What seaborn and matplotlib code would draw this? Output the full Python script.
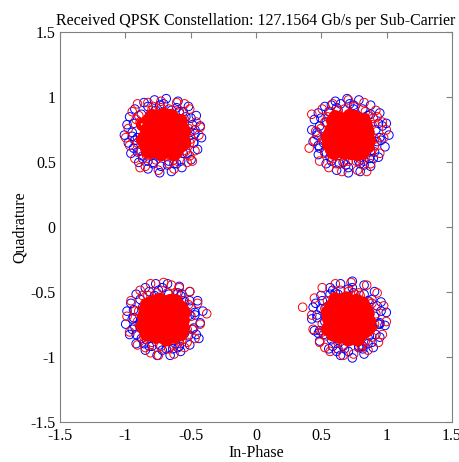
import numpy as np
import pandas as pd
import matplotlib
matplotlib.use("Agg")
import matplotlib.pyplot as plt
import seaborn as sns

# Ideal QPSK constellation points (In-Phase, Quadrature)
ideal_i = [-0.7071, 0.7071, -0.7071, 0.7071]
ideal_q = [0.7071, 0.7071, -0.7071, -0.7071]

# Received symbol offsets from the ideal points, in hundredths
# dense red core of each cluster
red_core_tl = [(0,0),(5,2),(-4,6),(9,-3),(-8,-5),(2,-9),(-3,11),(12,7),(-12,3),(7,12),(-7,-12),(14,-8),(-15,-2),(3,15),(-2,-15),(10,-13),(-11,12),(16,3),(-16,8),(1,5),(6,-6),(-6,1),(4,9),(-9,-9),(11,0),(-1,-5),(8,5),(-5,-2),(13,11),(-13,-10),(15,-3),(0,16),(-4,-10),(6,15),(-10,6),(9,-10),(-14,-6),(3,-13),(12,-5),(-7,9),(2,3),(-3,-3),(7,-1),(-8,3),(4,-4),(-2,8),(10,9),(-11,-1),(5,-11),(-6,14),(16,-6),(-16,-4),(8,-15),(-9,15),(14,5),(-1,12),(1,-11),(11,-9),(-12,-13),(13,-1),
               (2,-2),(-2,2),(6,2),(-6,-6),(3,6),(-4,-7),(8,-7),(-9,0),(0,-12),(-1,8),(9,2),(-10,-3),(5,11),(-5,10),(11,-4),(-11,9),(13,4),(-13,4),(7,9),(-7,-9),(10,-10),(-3,-12),(4,-8),(-8,7),(12,-2),(-12,-6),(1,13),(-9,-13),(6,-13),(9,12)]
red_core_tr = [(1,-1),(-5,3),(6,5),(-8,-4),(3,-8),(-2,10),(10,-2),(-11,6),(8,11),(-6,-11),(13,-7),(-14,1),(4,14),(-3,-14),(11,-12),(-12,11),(15,2),(-15,-7),(0,6),(7,-5),(-5,-1),(3,9),(-10,-8),(10,1),(0,-6),(9,6),(-4,-3),(12,12),(-13,-11),(16,-4),(1,15),(-5,-9),(5,14),(-9,7),(8,-11),(-13,-5),(2,-14),(13,-6),(-8,10),(3,2),(-2,-4),(6,0),(-9,2),(5,-3),(-3,7),(11,8),(-12,0),(4,-12),(-7,13),(15,-9),(-16,-2),(7,-15),(-10,14),(14,6),(0,12),(2,-10),(12,-10),(-11,-14),(14,0),(-1,3),
               (-1,1),(3,-3),(-6,6),(5,9),(-7,-2),(9,-8),(-3,-11),(12,4),(-12,-3),(1,-3),(7,2),(-10,10),(4,-11),(-4,12),(10,-5),(-11,-13),(13,9),(-13,4),(6,-7),(-6,-6),(9,10),(2,12),(-2,-8),(11,-14),(-14,-8),(0,9),(8,-13),(-9,-12),(14,-2),(-7,3)]
red_core_bl = [(-1,1),(4,-2),(-5,-6),(8,4),(-9,5),(3,10),(-2,-10),(11,-6),(-12,-3),(6,-12),(-8,12),(15,-1),(-14,7),(-3,15),(2,-16),(-11,-12),(12,10),(16,5),(-16,-5),(5,1),(-6,6),(1,-5),(9,-9),(-4,-8),(0,11),(7,7),(-7,0),(13,-12),(-13,11),(-15,2),(0,-13),(9,14),(-10,-6),(4,-14),(14,8),(-6,-14),(10,-4),(-3,4),(2,-2),(-8,-3),(6,3),(-1,9),(11,4),(-11,6),(5,-8),(-5,11),(15,-7),(-14,-9),(8,-14),(-9,13),(13,2),(1,13),(-2,-12),(10,11),(-12,-1),(3,6),(-4,-4),(7,-3),(-10,1),(12,-2),
               (1,-1),(-3,1),(3,3),(-7,-3),(6,-5),(-4,8),(9,0),(-10,-9),(0,-8),(4,12),(-6,-11),(11,8),(-12,4),(7,-10),(-9,9),(13,-4),(2,7),(-2,-5),(10,-12),(-14,-3),(5,14),(-5,14),(14,-10),(-13,-12),(8,10),(-8,2),(3,-11),(-1,-14),(12,5),(-11,-5)]
red_core_br = [(0,1),(-4,-3),(5,6),(-9,4),(9,-5),(-2,-9),(3,11),(12,3),(-11,-7),(-7,12),(7,-12),(-15,0),(14,-9),(-4,15),(4,-15),(-13,10),(11,12),(16,-2),(-16,5),(-1,-6),(6,-1),(-6,3),(2,8),(-9,-10),(10,5),(1,-11),(8,-8),(-3,5),(13,8),(-12,-12),(15,4),(-1,16),(-6,-6),(6,14),(-11,2),(10,-12),(-14,-4),(2,-14),(12,-4),(-8,8),(3,-3),(-3,0),(8,1),(-7,-2),(4,4),(-1,10),(9,10),(-12,6),(5,-10),(-5,13),(16,-7),(-16,-8),(7,-16),(-10,15),(14,1),(0,-16),(11,-1),(-13,-6),(1,4),(-5,8),
               (-1,-1),(3,2),(-5,-8),(7,-4),(-8,1),(1,7),(-3,10),(10,8),(-10,-4),(5,-13),(-6,11),(13,-1),(-13,8),(9,-11),(-2,-12),(6,10),(-9,-12),(12,-8),(-14,0),(4,-5),(-4,4),(8,13),(-11,12),(14,6),(0,-3),(-7,-14),(11,3),(2,-8),(-12,-9),(6,-15)]

# red symbols at the fuzzy rim and outliers around each cluster
red_edge_tl = [(-24,18),(-20,24),(-27,5),(-26,-8),(-22,-18),(-14,-24),(-4,-27),(8,-26),(18,-21),(24,-12),(27,0),(25,10),(20,20),(10,25),(-2,26),(-12,25),(-29,-2),(-18,-25),(22,-20),(28,6),(4,-22),(-21,12),(16,24),(-8,22),(20,-6),
               (19,5),(-18,10),(4,20),(-6,-19),(17,-12),(-20,-6),(12,17),(-13,-16),(21,-3),(-2,21),(8,-19),(-19,15),(16,12),(-17,-12),(20,-16),(-9,19)]
red_edge_tr = [(-30,-10),(-25,3),(-28,16),(-22,-20),(-15,-25),(-5,-28),(7,-27),(17,-22),(24,-14),(27,-2),(26,10),(21,19),(12,25),(0,27),(-12,24),(-20,20),(29,4),(-9,-22),(14,-28),(-26,-4),(20,-8),(5,22),(-18,10),(22,14),(-3,-20),
               (-19,-4),(18,8),(-3,20),(6,-20),(-16,14),(17,-13),(-12,-18),(13,18),(-21,5),(20,-3),(0,-20),(-8,19),(19,13),(-18,-14),(10,-19),(-14,18)]
red_edge_bl = [(0,28),(6,26),(-10,27),(-18,22),(-25,14),(-28,2),(-26,-10),(-20,-20),(-10,-26),(-4,-28),(8,-27),(16,-22),(24,-15),(28,-4),(33,4),(26,12),(20,21),(12,24),(-14,-22),(22,-8),(-22,6),(4,-23),(18,-18),(-16,18),(10,20),
               (18,-8),(-19,6),(-5,20),(7,-20),(16,14),(-15,-14),(-18,-7),(12,-17),(21,2),(-2,-21),(-12,18),(19,11),(-20,-2),(14,-16),(3,20),(-9,-18)]
red_edge_br = [(-35,9),(-26,16),(-20,24),(-10,27),(2,28),(14,26),(22,20),(27,10),(29,-2),(26,-12),(23,-18),(15,-24),(4,-27),(-4,-28),(-14,-25),(-22,-18),(-27,-8),(-28,3),(-18,-22),(10,-22),(20,-4),(-6,22),(18,12),(-20,-10),(8,20),
               (-18,8),(19,-6),(5,19),(-4,-20),(-17,-13),(16,13),(-20,-4),(13,-17),(0,21),(21,4),(-11,17),(10,-20),(-16,14),(18,-14),(-8,-18),(9,18)]

# blue symbols around each cluster (outer ring + rim next to the red core)
blue_tl = [(-28,8),(-30,0),(-27,-6),(-25,-14),(-19,-21),(-12,-26),(-3,-29),(6,-28),(14,-25),(21,-19),(26,-11),(29,-2),(28,7),(25,15),(19,22),(11,26),(2,28),(-7,27),(-15,25),(-22,20),(-26,14),(-20,-2),(-16,-16),(-8,-21),(4,-20),(15,-14),(20,2),(17,14),(6,19),(-6,19),(-17,8),(-23,-10),(10,-22),(23,-6),(-12,22),(24,4),(-2,-24),(-24,2),(12,18),(-18,-12),
           (22,8),(-22,-4),(10,21),(-12,-20),(18,-14),(-17,16),(3,-23),(-3,23),(23,-6),(-23,9),(15,18),(-16,-18),(8,-22),(-8,-22),(21,13),(-20,-13),(0,24),(24,1),(-24,-1),(13,-20)]
blue_tr = [(-26,12),(-28,4),(-27,-5),(-23,-15),(-17,-22),(-9,-27),(0,-29),(9,-28),(17,-24),(23,-17),(28,-9),(31,0),(29,9),(24,17),(17,23),(8,27),(-1,28),(-10,26),(-18,22),(-23,17),(-19,-6),(-14,-17),(-4,-21),(8,-20),(17,-12),(21,4),(15,15),(4,20),(-8,19),(-17,10),(-22,-10),(12,-23),(25,-4),(-13,23),(26,7),(0,-25),(-24,0),(11,20),(19,-18),(-6,24),
           (-22,7),(22,-5),(-9,21),(12,-20),(-18,-13),(17,16),(-2,-23),(4,23),(-23,-8),(23,9),(-15,18),(16,-18),(-7,-22),(9,-22),(-21,13),(20,-13),(1,24),(-24,2),(24,-2),(-13,-20)]
blue_bl = [(-28,6),(-29,-4),(-26,-12),(-21,-19),(-14,-24),(-5,-28),(5,-28),(13,-25),(20,-20),(25,-12),(28,-3),(30,6),(26,14),(20,21),(12,25),(3,27),(-6,27),(-14,24),(-21,19),(-25,12),(-18,-4),(-13,-16),(-3,-20),(9,-19),(16,-11),(20,3),(15,14),(4,19),(-7,18),(-16,9),(-24,-8),(11,-22),(23,-7),(-11,21),(24,5),(-1,-24),(-23,1),(13,18),(-17,-15),(27,-15),
           (21,9),(-22,-6),(11,20),(-11,-21),(19,-13),(-18,15),(2,-23),(-4,22),(22,-8),(-23,7),(14,19),(-15,-19),(7,-23),(-9,-21),(20,14),(-21,-12),(-1,24),(24,3),(-24,0),(12,-21)]
blue_br = [(-27,9),(-28,0),(-26,-9),(-22,-17),(-15,-23),(-6,-28),(3,-30),(12,-27),(19,-22),(24,-14),(28,-5),(29,5),(25,13),(20,21),(12,26),(3,29),(-6,27),(-14,24),(-21,18),(-25,12),(-18,-2),(-13,-16),(-4,-21),(8,-21),(16,-13),(20,2),(15,14),(4,20),(-8,19),(-17,9),(-23,-11),(11,-23),(24,-4),(-12,22),(25,6),(0,-25),(-24,3),(12,19),(18,-18),(-9,-25),
           (-21,8),(23,-4),(-10,20),(11,-21),(-19,-12),(18,15),(-3,-23),(3,24),(-22,-9),(22,10),(-14,19),(15,-19),(-8,-23),(8,-22),(-20,14),(21,-12),(0,23),(-24,1),(24,-3),(-12,-21)]

tick_values = [-1.5, -1, -0.5, 0, 0.5, 1, 1.5]
tick_labels = ["-1.5", "-1", "-0.5", "0", "0.5", "1", "1.5"]
title_text = "Received QPSK Constellation: 127.1564 Gb/s per Sub-Carrier"

series_sets = {
    "blue": [blue_tl, blue_tr, blue_bl, blue_br],
    "red_edge": [red_edge_tl, red_edge_tr, red_edge_bl, red_edge_br],
    "red_core": [red_core_tl, red_core_tr, red_core_bl, red_core_br],
}
rows = []
for name, sets in series_sets.items():
    for k, pts in enumerate(sets):
        for dx, dy in pts:
            rows.append({"series": name, "I": ideal_i[k] + dx / 100.0, "Q": ideal_q[k] + dy / 100.0})
df = pd.DataFrame(rows)

sns.set_theme(style="white")
plt.rcParams["font.family"] = ["Liberation Serif", "DejaVu Serif"]
plt.rcParams["axes.unicode_minus"] = False

fig = plt.figure(figsize=(4.6, 4.62), dpi=100)
ax = fig.add_axes([60/460, 1 - 422/462, 392/460, 390/462])

styles = {
    "blue": dict(color="#0000ff", lw=0.7),
    "red_edge": dict(color="#ff0000", lw=0.7),
    "red_core": dict(color="#ff0000", lw=3.6),
}
for name in ["blue", "red_edge", "red_core"]:
    st = styles[name]
    sns.scatterplot(data=df[df["series"] == name], x="I", y="Q", ax=ax,
                    marker="o", s=38, color=st["color"], facecolor="none",
                    edgecolor=st["color"], linewidth=st["lw"], legend=False)

ax.set_xlim(-1.5, 1.5)
ax.set_ylim(-1.5, 1.5)
ax.set_xticks(tick_values)
ax.set_xticklabels(tick_labels)
ax.set_yticks(tick_values)
ax.set_yticklabels(tick_labels)
ax.tick_params(direction="in", top=True, right=True, length=4, width=0.8,
               color="#808080", labelcolor="black", labelsize=11.5, pad=3)
ax.tick_params(axis="x", pad=4)
for sp in ax.spines.values():
    sp.set_color("#808080")
    sp.set_linewidth(0.8)
ax.set_xlabel("In-Phase", fontsize=11.5, color="black", labelpad=1)
ax.set_ylabel("Quadrature", fontsize=11.5, color="black", labelpad=2)
ax.set_title(title_text, fontsize=11.5, color="black", pad=5)

fig.savefig("out.png", dpi=100, facecolor="white")
